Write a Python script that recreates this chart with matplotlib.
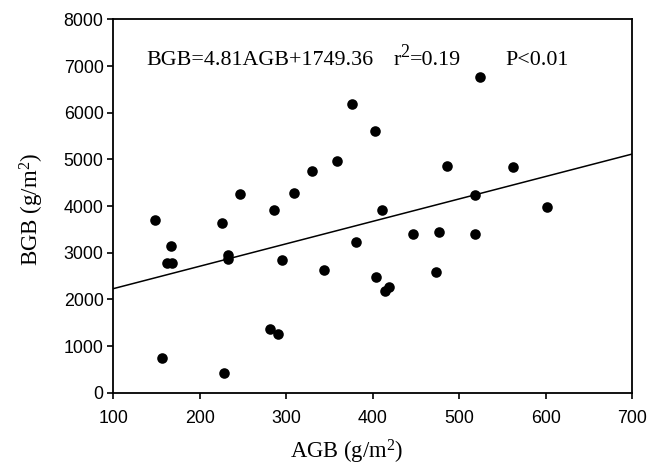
import matplotlib
matplotlib.use("Agg")
import matplotlib.pyplot as plt
import numpy as np

plt.rcParams['mathtext.fontset'] = 'custom'
plt.rcParams['mathtext.rm'] = 'Liberation Serif'
plt.rcParams['mathtext.it'] = 'Liberation Serif:italic'

agb = [148, 167, 162, 168, 156, 226, 232, 232, 228, 246, 286, 295, 281, 290,
       309, 330, 344, 359, 376, 381, 403, 404, 524, 486, 562, 518, 410, 601,
       446, 476, 518, 473, 414, 419]
bgb = [3697, 3148, 2790, 2790, 751, 3635, 2948, 2869, 429, 4264, 3906, 2854, 1367, 1260,
       4279, 4751, 2640, 4972, 6189, 3221, 5601, 2489, 6768, 4858, 4837, 4242, 3921, 3970,
       3406, 3442, 3406, 2597, 2189, 2262]
slope = 4.81
intercept = 1749.36
x_ticks = [100, 200, 300, 400, 500, 600, 700]
y_ticks = [0, 1000, 2000, 3000, 4000, 5000, 6000, 7000, 8000]

fig = plt.figure(figsize=(6.6, 4.67), dpi=100)
ax = fig.add_axes([0.1717, 0.159, 0.7866, 0.7995])
ax.scatter(agb, bgb, s=58, color='black', zorder=3, linewidths=0)
xl = np.array([100, 700])
ax.plot(xl, slope * xl + intercept, color='black', lw=1.1)
ax.set_xlim(100, 700)
ax.set_ylim(0, 8000)
ax.set_xticks(x_ticks)
ax.set_yticks(y_ticks)
for lab in ax.get_xticklabels() + ax.get_yticklabels():
    lab.set_family('Liberation Sans')
    lab.set_fontsize(12.8)
ax.tick_params(direction='out', length=4.5, width=1.2)
ax.tick_params(axis='y', pad=2.5)
ax.tick_params(axis='x', pad=8)
for sp in ax.spines.values():
    sp.set_linewidth(1.3)
ax.set_xlabel(r'AGB (g/m$^2$)', family='Liberation Serif', fontsize=16.3)
ax.set_ylabel(r'BGB (g/m$^2$)', family='Liberation Serif', fontsize=16.5)
ax.xaxis.set_label_coords(0.45, -0.122)
ax.yaxis.set_label_coords(-0.13, 0.49)
tfont = dict(family='Liberation Serif', fontsize=15.8, va='baseline')
ax.text(138, 7030, 'BGB=4.81AGB+1749.36', **tfont)
ax.text(424, 7030, 'r', **tfont)
ax.annotate('2', xy=(424, 7030), xytext=(5.0, 5.5), textcoords='offset points',
            family='Liberation Serif', fontsize=13, va='baseline')
ax.annotate('=0.19', xy=(424, 7030), xytext=(11.5, 0), textcoords='offset points',
            family='Liberation Serif', fontsize=15.8, va='baseline')
ax.text(553, 7030, 'P<0.01', **tfont)
fig.savefig('out.png', dpi=100)
